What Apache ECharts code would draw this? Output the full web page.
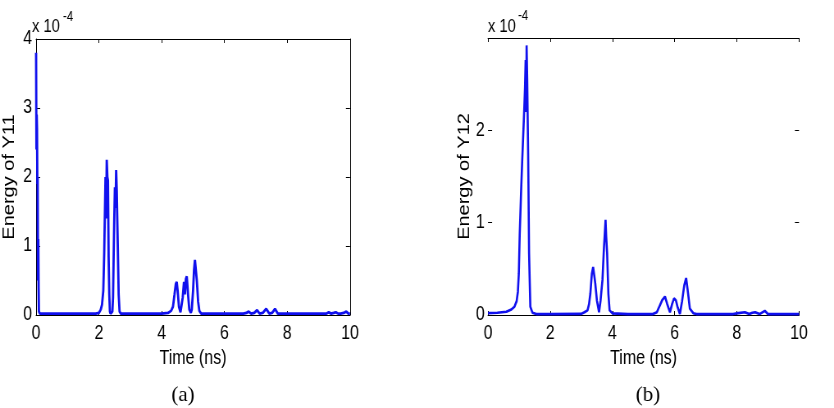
<!DOCTYPE html>
<html>
<head>
<meta charset="utf-8">
<script src="https://cdn.jsdelivr.net/npm/echarts@6/dist/echarts.min.js"></script>
<style>
html,body{margin:0;padding:0;background:#fff;overflow:hidden;}
#wrap{width:834px;height:408px;overflow:hidden;position:relative;}
#chart{width:1017px;height:408px;transform:scaleX(0.82006);transform-origin:0 0;position:absolute;left:0;top:0;}
</style>
</head>
<body>
<div id="wrap"><div id="chart"></div></div>
<script>
// ---- Data (energy values in units of 1e-4) ----
var xTicks = [0, 2, 4, 6, 8, 10];

var y11Time = [0.00,0.01,0.02,0.03,0.04,0.05,0.06,0.07,0.08,0.09,0.12,0.5,1.0,1.5,1.9,2.0,2.06,2.10,2.14,2.17,2.19,2.21,2.23,2.25,2.27,2.29,2.31,2.33,2.35,2.37,2.40,2.43,2.45,2.47,2.49,2.51,2.53,2.55,2.57,2.59,2.61,2.63,2.66,2.70,3.0,3.5,4.0,4.20,4.30,4.36,4.41,4.45,4.48,4.51,4.55,4.60,4.63,4.67,4.71,4.74,4.77,4.80,4.84,4.88,4.93,4.96,5.00,5.03,5.06,5.09,5.12,5.16,5.20,5.26,6.0,6.6,6.70,6.77,6.85,6.95,7.04,7.12,7.22,7.33,7.43,7.52,7.61,7.70,8.0,9.0,9.25,9.32,9.40,9.48,9.55,9.62,9.70,9.80,9.88,9.95,10.0];
var y11Energy = [3.80,2.40,2.90,2.70,1.90,2.00,0.50,1.10,0.40,0.05,0.02,0.02,0.02,0.02,0.02,0.03,0.08,0.15,0.35,0.90,1.45,2.00,1.40,2.25,2.00,1.95,0.85,0.30,0.05,0.02,0.02,0.05,0.25,0.85,1.40,1.85,1.55,2.10,1.80,1.30,0.80,0.30,0.05,0.02,0.02,0.02,0.02,0.03,0.06,0.12,0.30,0.45,0.48,0.35,0.12,0.04,0.06,0.25,0.48,0.30,0.52,0.56,0.30,0.08,0.03,0.08,0.35,0.65,0.80,0.78,0.50,0.20,0.06,0.02,0.02,0.02,0.03,0.05,0.02,0.03,0.07,0.02,0.03,0.09,0.02,0.03,0.09,0.02,0.02,0.02,0.02,0.04,0.02,0.03,0.04,0.02,0.02,0.03,0.05,0.02,0.02];

var y12Time = [0.00,0.30,0.59,0.75,0.85,0.92,0.96,0.99,1.02,1.06,1.10,1.15,1.19,1.21,1.23,1.24,1.26,1.29,1.32,1.36,1.43,1.55,2.0,3.0,3.10,3.20,3.25,3.29,3.34,3.38,3.45,3.50,3.57,3.62,3.68,3.73,3.78,3.80,3.83,3.87,3.91,4.0,4.5,5.0,5.30,5.43,5.52,5.60,5.69,5.76,5.85,5.92,5.98,6.04,6.10,6.17,6.24,6.31,6.37,6.42,6.49,6.60,6.70,7.88,8.05,8.26,8.40,8.50,8.59,8.73,8.90,9.00,10.0];
var y12Energy = [0.02,0.025,0.035,0.06,0.09,0.15,0.25,0.45,0.88,1.30,1.68,2.10,2.47,2.76,2.20,2.92,2.55,1.75,0.67,0.09,0.025,0.01,0.01,0.012,0.03,0.05,0.12,0.23,0.45,0.52,0.34,0.16,0.03,0.16,0.38,0.74,1.03,0.85,0.67,0.23,0.05,0.018,0.01,0.01,0.01,0.03,0.10,0.16,0.20,0.12,0.03,0.12,0.18,0.16,0.08,0.01,0.15,0.32,0.40,0.27,0.07,0.02,0.01,0.01,0.02,0.03,0.01,0.025,0.03,0.01,0.045,0.01,0.01];

var yTicksLeft = [0, 1, 2, 3, 4];
var yTicksRight = [0, 1, 2];

// The original figure is horizontally compressed; the canvas is drawn wider and squeezed by CSS.
var S = 0.82006;
function X(px){ return px / S; }

var SANS = '"Liberation Sans", Arial, sans-serif';
var SERIF = '"Liberation Serif", "Times New Roman", serif';
var BLUE = '#1010ee';

function pairs(t, v){ return t.map(function(x, i){ return [x, v[i]]; }); }

function xAxes(grid){
  var common = {
    gridIndex: grid, type: 'value', min: 0, max: 10, interval: 2,
    splitLine: {show: false},
    axisLine: {show: true, onZero: false, lineStyle: {color: '#000', width: 1}},
    axisTick: {show: true, inside: true, length: 4, lineStyle: {color: '#000', width: 1}}
  };
  var bottom = Object.assign({}, common, {
    position: 'bottom',
    axisLabel: {show: true, color: '#000', fontFamily: SANS, fontSize: 19.5, margin: 9,
      formatter: function(v){ return xTicks.indexOf(v) >= 0 ? String(v) : ''; }},
    name: 'Time (ns)', nameLocation: 'middle', nameGap: 29,
    nameTextStyle: {color: '#000', fontFamily: SANS, fontSize: 19.5}
  });
  var top = Object.assign({}, common, {position: 'top', axisLabel: {show: false}});
  return [bottom, top];
}

function yAxes(grid, max, ticks, name, showLine, gap, margin){
  var common = {
    gridIndex: grid, type: 'value', min: 0, max: max, interval: 1,
    splitLine: {show: false},
    axisLine: {show: showLine, onZero: false, lineStyle: {color: '#000', width: 1}},
    axisTick: {show: true, inside: true, length: 5, lineStyle: {color: '#000', width: 1}}
  };
  var left = Object.assign({}, common, {
    position: 'left',
    axisLabel: {show: true, color: '#000', fontFamily: SANS, fontSize: 19.5, margin: margin,
      formatter: function(v){ return ticks.indexOf(v) >= 0 ? String(v) : ''; }},
    name: name, nameLocation: 'middle', nameGap: gap,
    nameTextStyle: {color: '#000', fontFamily: SANS, fontSize: 20}
  });
  var right = Object.assign({}, common, {position: 'right', axisLabel: {show: false}});
  return [left, right];
}

var chart = echarts.init(document.getElementById('chart'), null, {renderer: 'canvas'});
var xa = xAxes(0).concat(xAxes(1));
var ya = yAxes(0, 4, yTicksLeft, 'Energy of Y11', true, 23, 5).concat(yAxes(1, 3, yTicksRight, 'Energy of Y12', false, 18, 4));

chart.setOption({
  animation: false,
  backgroundColor: '#fff',
  grid: [
    {left: X(32), top: 39, width: X(318), height: 276},
    {left: X(488), top: 38, width: X(311), height: 277}
  ],
  xAxis: xa,
  yAxis: ya,
  series: [
    {type: 'line', xAxisIndex: 0, yAxisIndex: 0, data: pairs(y11Time, y11Energy), showSymbol: false,
      lineStyle: {color: BLUE, width: 2.8}, clip: true},
    {type: 'line', xAxisIndex: 2, yAxisIndex: 2, data: pairs(y12Time, y12Energy), showSymbol: false,
      lineStyle: {color: BLUE, width: 2.6}, clip: true}
  ],
  graphic: [
    {type: 'text', x: X(32), y: 27, style: {text: 'x 10', font: '18px ' + SANS, fill: '#000', textAlign: 'left', textVerticalAlign: 'middle'}},
    {type: 'text', x: X(63), y: 17, style: {text: '-4', font: '14px ' + SANS, fill: '#000', textAlign: 'left', textVerticalAlign: 'middle'}},
    {type: 'text', x: X(488), y: 27, style: {text: 'x 10', font: '18px ' + SANS, fill: '#000', textAlign: 'left', textVerticalAlign: 'middle'}},
    {type: 'text', x: X(518), y: 16, style: {text: '-4', font: '14px ' + SANS, fill: '#000', textAlign: 'left', textVerticalAlign: 'middle'}},
    {type: 'text', x: X(183), y: 395, scaleX: 1 / S, style: {text: '(a)', font: '21px ' + SERIF, fill: '#000', textAlign: 'center', textVerticalAlign: 'middle'}},
    {type: 'text', x: X(648), y: 395, scaleX: 1 / S, style: {text: '(b)', font: '21px ' + SERIF, fill: '#000', textAlign: 'center', textVerticalAlign: 'middle'}}
  ]
});
</script>
</body>
</html>
